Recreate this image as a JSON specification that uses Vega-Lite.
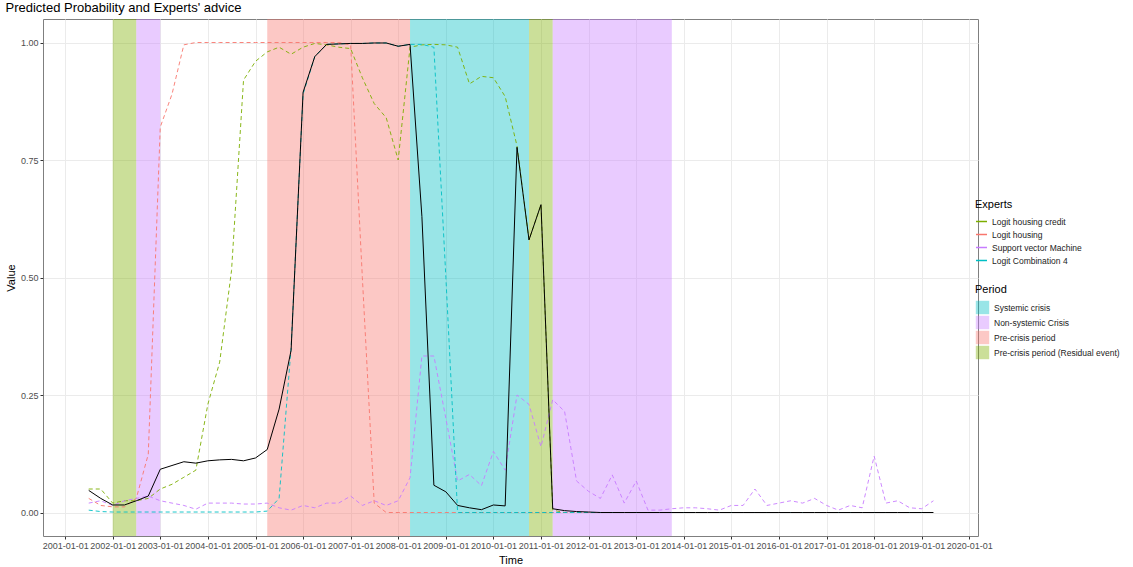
{
  "$schema": "https://vega.github.io/schema/vega-lite/v6.json",
  "width": 935,
  "height": 517,
  "padding": {"left": 5, "top": 2, "right": 0, "bottom": 2},
  "title": {"text": "Predicted Probability and Experts' advice", "anchor": "start", "fontSize": 13, "fontWeight": "normal", "font": "Liberation Sans", "offset": 4},
  "config": {
    "font": "Liberation Sans",
    "view": {"stroke": "#7f7f7f"},
    "axis": {"gridColor": "#ebebeb", "domain": false, "tickColor": "#333333", "labelColor": "#4d4d4d", "labelFontSize": 9, "titleFontSize": 11, "titleFontWeight": "normal", "tickSize": 3},
    "legend": {"titleFontSize": 11, "titleFontWeight": "normal", "labelFontSize": 8.5, "labelColor": "#222"}
  },
  "datasets": {
    "periods": [
      {"start": "2002-01-01", "end": "2002-07-01", "period": "Pre-crisis period (Residual event)"},
      {"start": "2002-07-01", "end": "2003-01-01", "period": "Non-systemic Crisis"},
      {"start": "2005-04-01", "end": "2008-04-01", "period": "Pre-crisis period"},
      {"start": "2008-04-01", "end": "2010-10-01", "period": " Systemic crisis"},
      {"start": "2010-10-01", "end": "2011-04-01", "period": "Pre-crisis period (Residual event)"},
      {"start": "2011-04-01", "end": "2013-10-01", "period": "Non-systemic Crisis"}
    ],
    "series": [
      {"t":"2001-07-01","m":0.047,"lhc":0.05,"lh":0.03,"svm":0.02,"lc4":0.005},
      {"t":"2001-10-01","m":0.03,"lhc":0.05,"lh":0.015,"svm":0.025,"lc4":0.002},
      {"t":"2002-01-01","m":0.016,"lhc":0.02,"lh":0.012,"svm":0.015,"lc4":0.001},
      {"t":"2002-04-01","m":0.016,"lhc":0.025,"lh":0.012,"svm":0.025,"lc4":0.001},
      {"t":"2002-07-01","m":0.025,"lhc":0.025,"lh":0.03,"svm":0.03,"lc4":0.001},
      {"t":"2002-10-01","m":0.035,"lhc":0.03,"lh":0.124,"svm":0.035,"lc4":0.001},
      {"t":"2003-01-01","m":0.092,"lhc":0.05,"lh":0.82,"svm":0.025,"lc4":0.001},
      {"t":"2003-04-01","m":0.1,"lhc":0.06,"lh":0.89,"svm":0.02,"lc4":0.001},
      {"t":"2003-07-01","m":0.108,"lhc":0.075,"lh":0.995,"svm":0.015,"lc4":0.001},
      {"t":"2003-10-01","m":0.105,"lhc":0.09,"lh":1,"svm":0.007,"lc4":0.001},
      {"t":"2004-01-01","m":0.11,"lhc":0.23,"lh":1,"svm":0.02,"lc4":0.001},
      {"t":"2004-04-01","m":0.112,"lhc":0.32,"lh":1,"svm":0.02,"lc4":0.001},
      {"t":"2004-07-01","m":0.113,"lhc":0.515,"lh":1,"svm":0.02,"lc4":0.001},
      {"t":"2004-10-01","m":0.11,"lhc":0.92,"lh":1,"svm":0.018,"lc4":0.001},
      {"t":"2005-01-01","m":0.116,"lhc":0.96,"lh":1,"svm":0.018,"lc4":0.001},
      {"t":"2005-04-01","m":0.134,"lhc":0.98,"lh":1,"svm":0.02,"lc4":0.003},
      {"t":"2005-07-01","m":0.22,"lhc":0.99,"lh":1,"svm":0.01,"lc4":0.03},
      {"t":"2005-10-01","m":0.345,"lhc":0.975,"lh":1,"svm":0.005,"lc4":0.35},
      {"t":"2006-01-01","m":0.894,"lhc":0.99,"lh":1,"svm":0.015,"lc4":0.89},
      {"t":"2006-04-01","m":0.97,"lhc":0.998,"lh":1,"svm":0.01,"lc4":0.97},
      {"t":"2006-07-01","m":0.996,"lhc":0.995,"lh":1,"svm":0.02,"lc4":0.996},
      {"t":"2006-10-01","m":0.997,"lhc":0.99,"lh":1,"svm":0.02,"lc4":0.997},
      {"t":"2007-01-01","m":0.998,"lhc":0.987,"lh":0.995,"svm":0.035,"lc4":0.998},
      {"t":"2007-04-01","m":0.998,"lhc":0.925,"lh":0.5,"svm":0.015,"lc4":0.998},
      {"t":"2007-07-01","m":0.999,"lhc":0.87,"lh":0.02,"svm":0.025,"lc4":0.999},
      {"t":"2007-10-01","m":0.999,"lhc":0.84,"lh":0,"svm":0.015,"lc4":0.999},
      {"t":"2008-01-01","m":0.992,"lhc":0.75,"lh":0,"svm":0.025,"lc4":0.992},
      {"t":"2008-04-01","m":0.996,"lhc":0.99,"lh":0,"svm":0.074,"lc4":0.996},
      {"t":"2008-07-01","m":0.63,"lhc":0.995,"lh":0,"svm":0.333,"lc4":0.996},
      {"t":"2008-10-01","m":0.058,"lhc":0.996,"lh":0,"svm":0.333,"lc4":0.99},
      {"t":"2009-01-01","m":0.044,"lhc":0.995,"lh":0,"svm":0.2,"lc4":0.5},
      {"t":"2009-04-01","m":0.015,"lhc":0.99,"lh":0,"svm":0.067,"lc4":0},
      {"t":"2009-07-01","m":0.01,"lhc":0.912,"lh":0,"svm":0.081,"lc4":0},
      {"t":"2009-10-01","m":0.006,"lhc":0.928,"lh":0,"svm":0.057,"lc4":0},
      {"t":"2010-01-01","m":0.016,"lhc":0.925,"lh":0,"svm":0.13,"lc4":0},
      {"t":"2010-04-01","m":0.014,"lhc":0.885,"lh":0,"svm":0.09,"lc4":0},
      {"t":"2010-07-01","m":0.777,"lhc":0.78,"lh":0,"svm":0.25,"lc4":0},
      {"t":"2010-10-01","m":0.58,"lhc":0.58,"lh":0,"svm":0.23,"lc4":0},
      {"t":"2011-01-01","m":0.655,"lhc":0.655,"lh":0,"svm":0.14,"lc4":0},
      {"t":"2011-04-01","m":0.008,"lhc":0.005,"lh":0,"svm":0.24,"lc4":0},
      {"t":"2011-07-01","m":0.004,"lhc":0,"lh":0,"svm":0.215,"lc4":0},
      {"t":"2011-10-01","m":0.002,"lhc":0,"lh":0,"svm":0.067,"lc4":0},
      {"t":"2012-01-01","m":0.001,"lhc":0,"lh":0,"svm":0.045,"lc4":0},
      {"t":"2012-04-01","m":0,"lhc":0,"lh":0,"svm":0.03,"lc4":0},
      {"t":"2012-07-01","m":0,"lhc":0,"lh":0,"svm":0.08,"lc4":0},
      {"t":"2012-10-01","m":0,"lhc":0,"lh":0,"svm":0.02,"lc4":0},
      {"t":"2013-01-01","m":0,"lhc":0,"lh":0,"svm":0.067,"lc4":0},
      {"t":"2013-04-01","m":0,"lhc":0,"lh":0,"svm":0.005,"lc4":0},
      {"t":"2013-07-01","m":0,"lhc":0,"lh":0,"svm":0.005,"lc4":0},
      {"t":"2013-10-01","m":0,"lhc":0,"lh":0,"svm":0.008,"lc4":0},
      {"t":"2014-01-01","m":0,"lhc":0,"lh":0,"svm":0.01,"lc4":0},
      {"t":"2014-04-01","m":0,"lhc":0,"lh":0,"svm":0.01,"lc4":0},
      {"t":"2014-07-01","m":0,"lhc":0,"lh":0,"svm":0.008,"lc4":0},
      {"t":"2014-10-01","m":0,"lhc":0,"lh":0,"svm":0.005,"lc4":0},
      {"t":"2015-01-01","m":0,"lhc":0,"lh":0,"svm":0.015,"lc4":0},
      {"t":"2015-04-01","m":0,"lhc":0,"lh":0,"svm":0.015,"lc4":0},
      {"t":"2015-07-01","m":0,"lhc":0,"lh":0,"svm":0.05,"lc4":0},
      {"t":"2015-10-01","m":0,"lhc":0,"lh":0,"svm":0.015,"lc4":0},
      {"t":"2016-01-01","m":0,"lhc":0,"lh":0,"svm":0.02,"lc4":0},
      {"t":"2016-04-01","m":0,"lhc":0,"lh":0,"svm":0.025,"lc4":0},
      {"t":"2016-07-01","m":0,"lhc":0,"lh":0,"svm":0.02,"lc4":0},
      {"t":"2016-10-01","m":0,"lhc":0,"lh":0,"svm":0.03,"lc4":0},
      {"t":"2017-01-01","m":0,"lhc":0,"lh":0,"svm":0.015,"lc4":0},
      {"t":"2017-04-01","m":0,"lhc":0,"lh":0,"svm":0.005,"lc4":0},
      {"t":"2017-07-01","m":0,"lhc":0,"lh":0,"svm":0.015,"lc4":0},
      {"t":"2017-10-01","m":0,"lhc":0,"lh":0,"svm":0.01,"lc4":0},
      {"t":"2018-01-01","m":0,"lhc":0,"lh":0,"svm":0.12,"lc4":0},
      {"t":"2018-04-01","m":0,"lhc":0,"lh":0,"svm":0.02,"lc4":0},
      {"t":"2018-07-01","m":0,"lhc":0,"lh":0,"svm":0.025,"lc4":0},
      {"t":"2018-10-01","m":0,"lhc":0,"lh":0,"svm":0.01,"lc4":0},
      {"t":"2019-01-01","m":0,"lhc":0,"lh":0,"svm":0.008,"lc4":0},
      {"t":"2019-04-01","m":0,"lhc":0,"lh":0,"svm":0.025,"lc4":0}
    ]
  },
  "layer": [
    {
      "data": {"name": "periods"},
      "mark": {"type": "rect", "opacity": 0.4},
      "encoding": {
        "x": {"field": "start", "type": "temporal"},
        "x2": {"field": "end"},
        "fill": {
          "field": "period", "type": "nominal", "title": "Period",
          "scale": {"domain": [" Systemic crisis", "Non-systemic Crisis", "Pre-crisis period", "Pre-crisis period (Residual event)"], "range": ["#00BFC4", "#C77CFF", "#F8766D", "#7CAE00"]},
          "legend": {"orient": "none", "legendX": 932, "legendY": 265, "symbolType": "square", "symbolSize": 180, "symbolOpacity": 0.4, "rowPadding": 0, "labelLimit": 200}
        }
      }
    },
    {
      "data": {"name": "series"},
      "transform": [{"fold": ["lhc", "lh", "svm", "lc4"], "as": ["key", "value"]}],
      "mark": {"type": "line", "strokeDash": [4, 3], "strokeWidth": 0.9},
      "encoding": {
        "x": {
          "field": "t", "type": "temporal", "title": "Time",
          "scale": {"domain": ["2000-07-15", "2020-03-08"]},
          "axis": {"format": "%Y-%m-%d", "tickCount": {"interval": "year", "step": 1}, "labelAngle": 0, "labelOverlap": false}
        },
        "y": {
          "field": "value", "type": "quantitative", "title": "Value",
          "scale": {"domain": [-0.05, 1.05], "nice": false, "zero": false},
          "axis": {"values": [0, 0.25, 0.5, 0.75, 1], "format": ".2f"}
        },
        "stroke": {
          "field": "key", "type": "nominal", "title": "Experts",
          "scale": {"domain": ["lhc", "lh", "svm", "lc4"], "range": ["#7CAE00", "#F8766D", "#C77CFF", "#00BFC4"]},
          "legend": {"orient": "none", "legendX": 932, "legendY": 180, "symbolType": "stroke", "symbolStrokeDash": [3, 3], "symbolSize": 120, "rowPadding": 2,
            "labelExpr": "{'lhc': 'Logit housing credit', 'lh': 'Logit housing', 'svm': 'Support vector Machine', 'lc4': 'Logit Combination 4'}[datum.label]"}
        },
        "detail": {"field": "key"}
      }
    },
    {
      "data": {"name": "series"},
      "mark": {"type": "line", "color": "black", "strokeWidth": 1},
      "encoding": {
        "x": {"field": "t", "type": "temporal"},
        "y": {"field": "m", "type": "quantitative"}
      }
    }
  ]
}
